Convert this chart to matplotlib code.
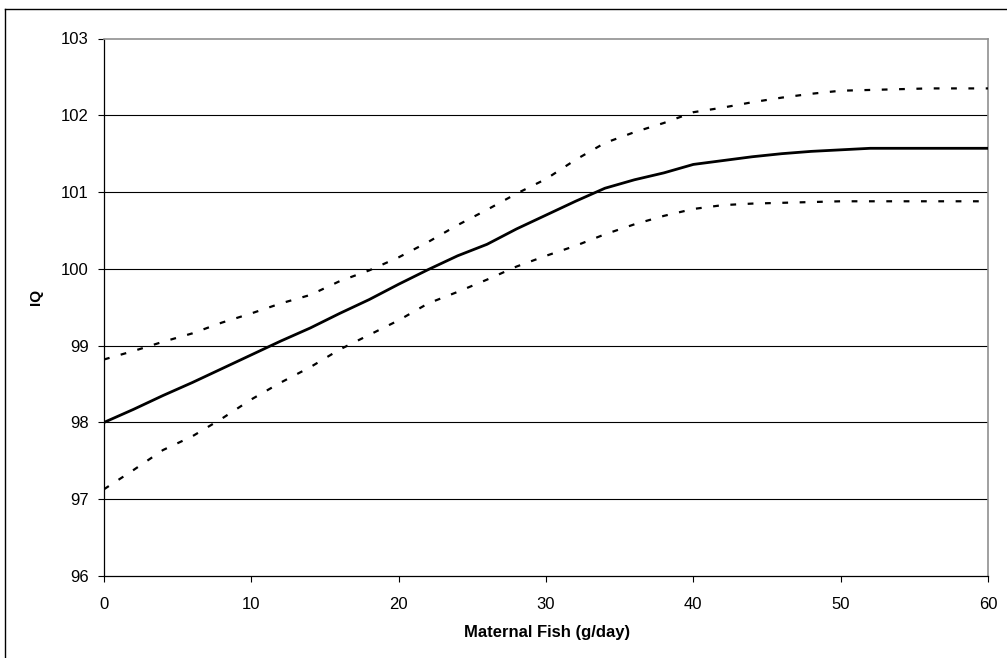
import matplotlib
matplotlib.use("Agg")
import matplotlib.pyplot as plt
from matplotlib.lines import Line2D

plt.rcParams['font.family'] = ['Liberation Sans', 'DejaVu Sans']

fish = [0, 2, 4, 6, 8, 10, 12, 14, 16, 18, 20, 22, 24, 26, 28, 30,
        32, 34, 36, 38, 40, 42, 44, 46, 48, 50, 52, 54, 56, 58, 60]
iq_mean = [98.00, 98.17, 98.35, 98.52, 98.70, 98.88, 99.06, 99.23, 99.42, 99.60,
           99.80, 99.99, 100.17, 100.32, 100.52, 100.70, 100.88, 101.05, 101.16,
           101.25, 101.36, 101.41, 101.46, 101.50, 101.53, 101.55, 101.57, 101.57,
           101.57, 101.57, 101.57]
iq_upper = [98.82, 98.93, 99.05, 99.16, 99.30, 99.42, 99.55, 99.66, 99.84, 99.98,
            100.15, 100.35, 100.57, 100.77, 100.98, 101.17, 101.42, 101.64, 101.78,
            101.90, 102.04, 102.10, 102.17, 102.23, 102.28, 102.32, 102.33, 102.34,
            102.35, 102.35, 102.35]
iq_lower = [97.13, 97.38, 97.64, 97.82, 98.05, 98.30, 98.52, 98.72, 98.95, 99.14,
            99.33, 99.55, 99.70, 99.86, 100.03, 100.17, 100.30, 100.45, 100.58,
            100.69, 100.78, 100.83, 100.85, 100.86, 100.87, 100.88, 100.88, 100.88,
            100.88, 100.88, 100.88]
x_ticks = [0, 10, 20, 30, 40, 50, 60]
y_ticks = [96, 97, 98, 99, 100, 101, 102, 103]

fig = plt.figure(figsize=(10.07, 6.58), dpi=100)
ax = fig.add_axes([104/1007, 1 - 576/658, (988 - 104)/1007, (576 - 38.5)/658])

for y in y_ticks[1:-1]:
    ax.axhline(y, color='black', lw=0.8, zorder=1)

ax.plot(fish, iq_mean, color='black', lw=2.0, zorder=3)
ax.plot(fish, iq_upper, color='black', lw=1.6, dashes=(2.6, 5.2), zorder=3)
ax.plot(fish, iq_lower, color='black', lw=1.6, dashes=(2.6, 5.2), zorder=3)

ax.set_xlim(0, 60)
ax.set_ylim(96, 103)
ax.set_xticks(x_ticks)
ax.set_yticks(y_ticks)
ax.tick_params(direction='out', length=4.5, width=0.8, labelsize=12, colors='black')
ax.tick_params(axis='y', pad=6.5)
ax.tick_params(axis='x', pad=10.5)

for s in ['left', 'bottom']:
    ax.spines[s].set_color('black')
    ax.spines[s].set_linewidth(0.9)
for s in ['top', 'right']:
    ax.spines[s].set_color('#909090')
    ax.spines[s].set_linewidth(1.2)

ax.set_xlabel('Maternal Fish (g/day)', fontsize=12, fontweight='bold')
ax.set_ylabel('IQ', fontsize=11, fontweight='bold')
ax.xaxis.set_label_coords(0.5017, -0.092)
ax.yaxis.set_label_coords(-0.077, 0.52)
ax.yaxis.label.set_verticalalignment('center')

# outer chart frame
fig.add_artist(Line2D([5/1007, 5/1007], [0, 1 - 9/658], transform=fig.transFigure, color='black', lw=1.0))
fig.add_artist(Line2D([5/1007, 1], [1 - 9/658, 1 - 9/658], transform=fig.transFigure, color='black', lw=1.0))

fig.savefig('out.png', dpi=100)
